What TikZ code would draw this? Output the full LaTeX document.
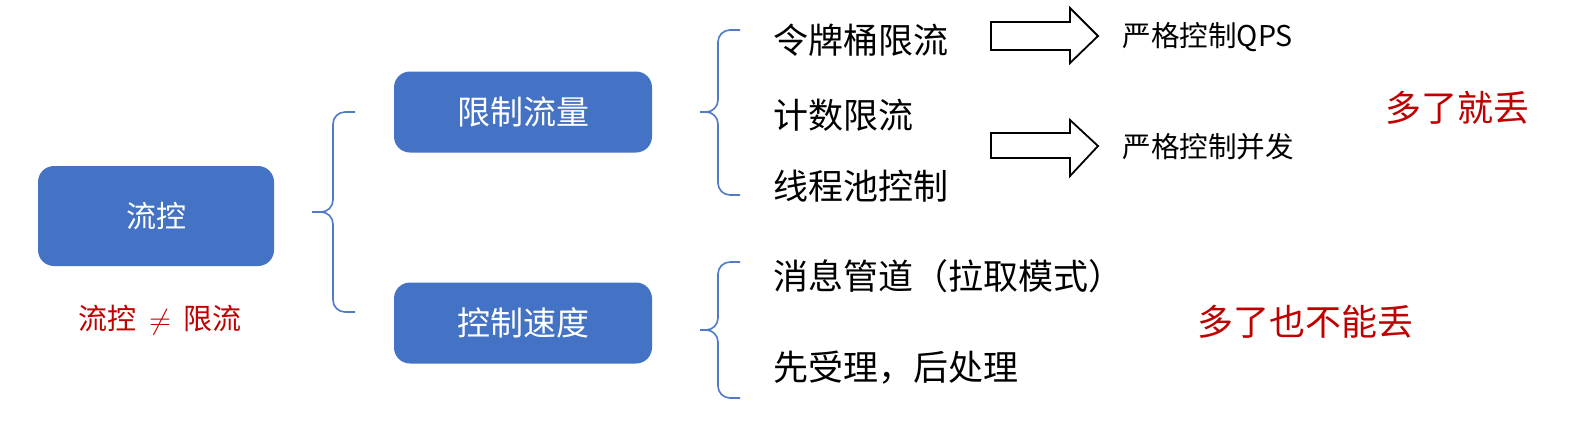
\documentclass[tikz,border=0pt]{standalone}
\usepackage{fontspec}
\setmainfont{Noto Sans CJK SC}
\begin{document}
\begin{tikzpicture}[x=0.5pt,y=-0.5pt,
  bluebox/.style={draw=none,fill=boxblue,rounded corners=8pt,text=white,font=\fontsize{16.5}{19}\selectfont,inner sep=0pt},
  item/.style={anchor=west,font=\fontsize{17.5}{20}\selectfont,inner sep=0pt},
  res/.style={anchor=west,font=\fontsize{14.3}{17}\selectfont,inner sep=0pt},
  redtxt/.style={text=redc,inner sep=0pt},
  brace/.style={draw=braceblue,line width=0.8pt,rounded corners=6pt},
  barrow/.style={draw=black,line width=0.9pt,fill=white,line join=miter}]
\definecolor{boxblue}{HTML}{4472C4}
\definecolor{braceblue}{HTML}{4F7BC8}
\definecolor{redc}{HTML}{C00000}
\useasboundingbox[fill=white] (0,0) rectangle (1584,420);
\node[bluebox,minimum width=118pt,minimum height=50pt,font=\fontsize{15}{18}\selectfont] (fc) at (156,216) {流控};
\node[redtxt,font=\fontsize{14.5}{17}\selectfont] (neq) at (160,320) {流控\ \ $\neq$\ \ 限流};
\node[bluebox,minimum width=129pt,minimum height=40.5pt] (xz) at (523,112) {限制流量};
\node[bluebox,minimum width=129pt,minimum height=40.5pt] (ks) at (523,323) {控制速度};
\draw[brace] (355,112) -- (333,112) -- (333,212) -- (312,212);
\draw[brace] (312,212) -- (333,212) -- (333,312) -- (355,312);
\draw[brace] (740,30) -- (718,30) -- (718,112) -- (700,112);
\draw[brace] (700,112) -- (718,112) -- (718,195) -- (740,195);
\draw[brace] (740,262) -- (718,262) -- (718,330) -- (700,330);
\draw[brace] (700,330) -- (718,330) -- (718,398) -- (740,398);
\node[item] (a1) at (773,40) {令牌桶限流};
\node[item] (a2) at (773,115) {计数限流};
\node[item] (a3) at (773,186) {线程池控制};
\node[item] (b1) at (773,276) {消息管道（拉取模式）};
\node[item] (b2) at (773,368) {先受理，后处理};
\draw[barrow] (991,22) -- (1070,22) -- (1070,8) -- (1098,36) -- (1070,63) -- (1070,50) -- (991,50) -- cycle;
\draw[barrow] (991,133) -- (1070,133) -- (1070,120) -- (1098,146) -- (1070,176) -- (1070,158) -- (991,158) -- cycle;
\node[res] (r1) at (1122,37) {严格控制QPS};
\node[res] (r2) at (1122,147) {严格控制并发};
\node[redtxt,font=\fontsize{18}{21}\selectfont] (d1) at (1457,108) {多了就丢};
\node[redtxt,font=\fontsize{18}{21}\selectfont] (d2) at (1305,322) {多了也不能丢};
\end{tikzpicture}
\end{document}
